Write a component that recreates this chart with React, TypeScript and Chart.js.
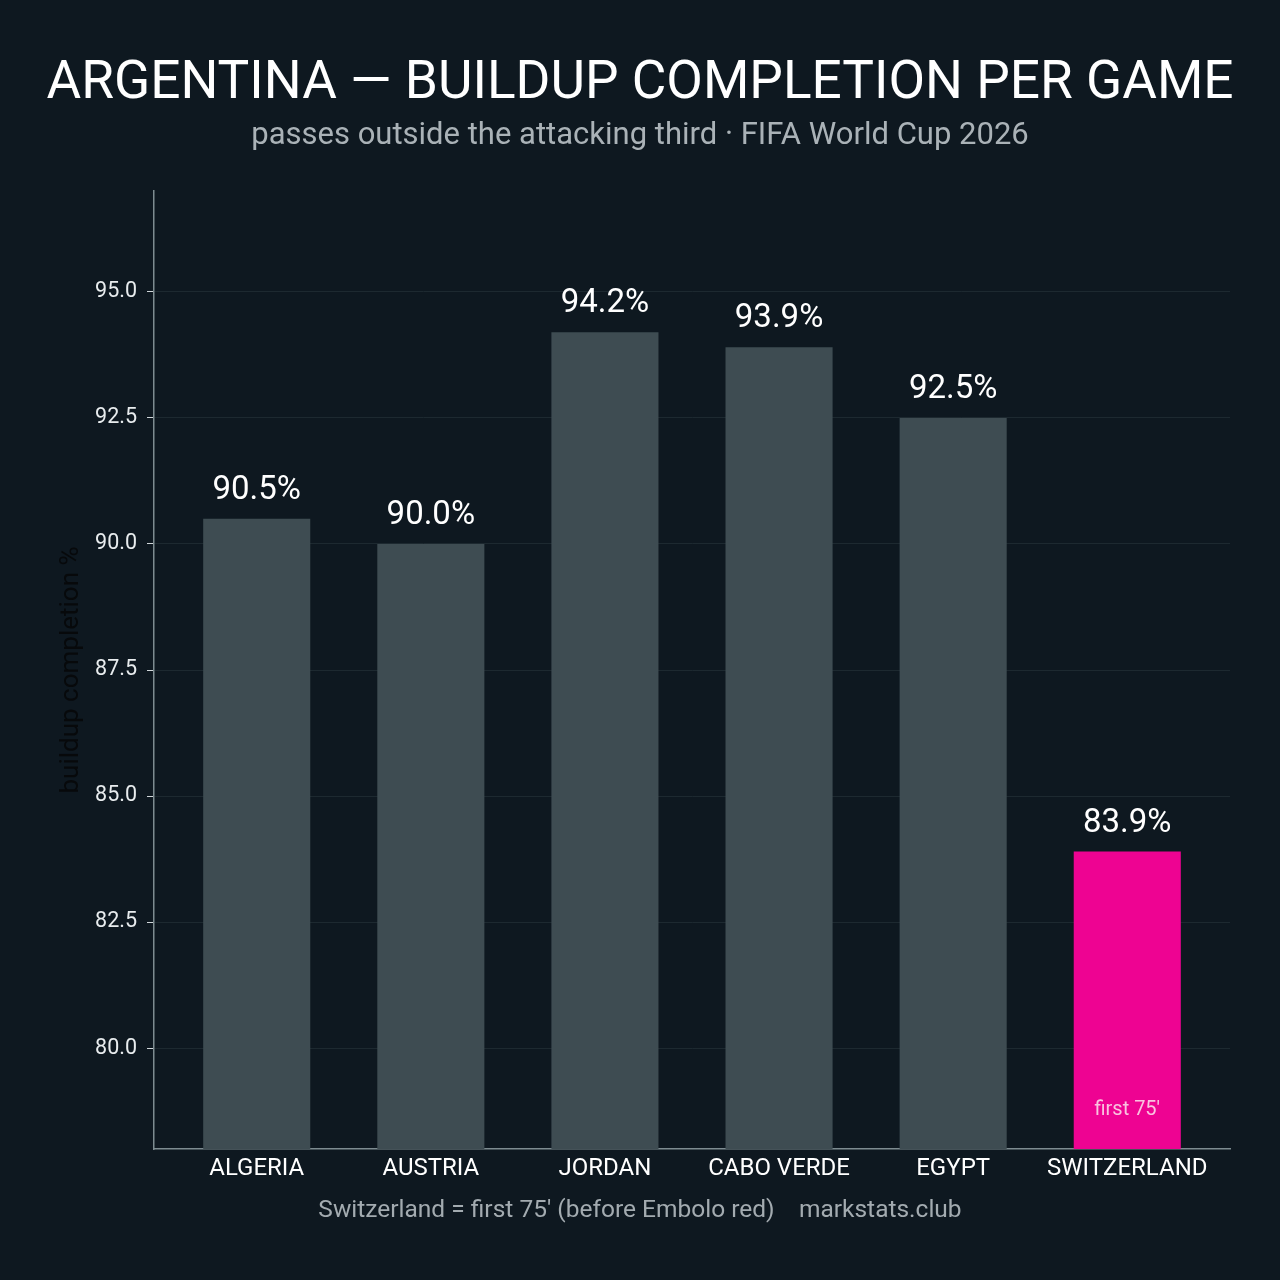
import React, { useEffect, useRef } from "react";
import { Chart, registerables } from "chart.js";

Chart.register(...registerables);

const categories = ["ALGERIA", "AUSTRIA", "JORDAN", "CABO VERDE", "EGYPT", "SWITZERLAND"];
const values = [90.5, 90.0, 94.2, 93.9, 92.5, 83.9];
const valueLabels = ["90.5%", "90.0%", "94.2%", "93.9%", "92.5%", "83.9%"];
const yTicks = [80, 82.5, 85, 87.5, 90, 92.5, 95];
const highlightCategory = "SWITZERLAND";
const highlightNote = "first 75'";
const titleText = "ARGENTINA — BUILDUP COMPLETION PER GAME";
const subtitleText = "passes outside the attacking third · FIFA World Cup 2026";
const footerText = "Switzerland = first 75' (before Embolo red)    markstats.club";
const yAxisTitle = "buildup completion %";

const BG = "#0e1820";
const BAR = "#3e4c52";
const PINK = "#ee0392";

export default function App() {
  const ref = useRef<HTMLCanvasElement | null>(null);

  useEffect(() => {
    document.body.style.margin = "0";
    document.body.style.background = BG;
    const canvas = ref.current;
    if (!canvas) return;

    const textPlugin = {
      id: "texts",
      beforeDraw(chart: any) {
        const ctx = chart.ctx;
        ctx.save();
        ctx.fillStyle = BG;
        ctx.fillRect(0, 0, chart.width, chart.height);
        ctx.restore();
      },
      afterDraw(chart: any) {
        const ctx = chart.ctx;
        ctx.save();
        ctx.textAlign = "center";
        ctx.textBaseline = "alphabetic";
        ctx.fillStyle = "#ffffff";
        ctx.font = "53.2px Roboto";
        ctx.fillText(titleText, chart.width / 2, 98);
        ctx.fillStyle = "#aab2b7";
        ctx.font = "31px Roboto";
        ctx.fillText(subtitleText, chart.width / 2, 144);
        ctx.fillStyle = "#a3abb0";
        ctx.font = "24.5px Roboto";
        ctx.fillText(footerText, chart.width / 2, 1217);
        ctx.restore();
      },
      afterDatasetsDraw(chart: any) {
        const ctx = chart.ctx;
        const meta = chart.getDatasetMeta(0);
        const bottom = chart.chartArea.bottom;
        ctx.save();
        ctx.textAlign = "center";
        ctx.textBaseline = "alphabetic";
        meta.data.forEach((el: any, i: number) => {
          ctx.fillStyle = "#ffffff";
          ctx.font = "33px Roboto";
          ctx.fillText(valueLabels[i], el.x, el.y - 20);
          if (categories[i] === highlightCategory) {
            ctx.fillStyle = "#f9c3df";
            ctx.font = "20px Roboto";
            ctx.fillText(highlightNote, el.x, bottom - 34);
          }
        });
        ctx.restore();
      },
    };

    const chart = new Chart(canvas, {
      type: "bar",
      data: {
        datasets: [
          {
            data: values.map((v, i) => ({ x: i, y: v })),
            backgroundColor: categories.map((c) => (c === highlightCategory ? PINK : BAR)),
            borderWidth: 0,
            barPercentage: 0.615,
            categoryPercentage: 1,
          },
        ],
      },
      options: {
        responsive: false,
        animation: false,
        devicePixelRatio: 1,
        layout: { padding: { top: 191, right: 50, bottom: 81, left: 0 } },
        plugins: {
          legend: { display: false },
          tooltip: { enabled: false },
          title: { display: false },
        },
        scales: {
          x: {
            type: "linear",
            min: -0.59,
            max: 5.59,
            offset: false,
            afterBuildTicks: (scale: any) => {
              scale.ticks = categories.map((_, i) => ({ value: i }));
            },
            afterFit: (scale: any) => {
              scale.height = 50;
            },
            ticks: {
              callback: (v: any) => categories[Math.round(Number(v))] ?? "",
              color: "#ffffff",
              font: { size: 24, family: "Roboto" },
              padding: 6,
              maxRotation: 0,
              autoSkip: false,
            },
            grid: { display: false, drawTicks: false, offset: false },
            border: { display: true, color: "#7d8b90", width: 1.5 },
          },
          y: {
            min: 78,
            max: 97,
            afterBuildTicks: (scale: any) => {
              scale.ticks = yTicks.map((v) => ({ value: v }));
            },
            afterFit: (scale: any) => {
              scale.width = 154;
            },
            ticks: {
              callback: (v: any) => Number(v).toFixed(1),
              color: "#e8ecee",
              font: { size: 21.5, family: "Roboto" },
              padding: 10,
            },
            grid: {
              color: "#1d2930",
              tickColor: "#d0d6d9",
              tickLength: 7,
              lineWidth: 1,
            },
            border: { display: true, color: "#7d8b90", width: 1.5 },
            title: {
              display: true,
              text: yAxisTitle,
              color: "#07090b",
              font: { size: 26, family: "Roboto" },
              padding: { top: 56, bottom: 0 },
            },
          },
        },
      },
      plugins: [textPlugin],
    });

    return () => chart.destroy();
  }, []);

  return (
    <div style={{ width: 1280, height: 1280, background: BG }}>
      <canvas ref={ref} width={1280} height={1280} style={{ width: 1280, height: 1280, display: "block" }} />
    </div>
  );
}
